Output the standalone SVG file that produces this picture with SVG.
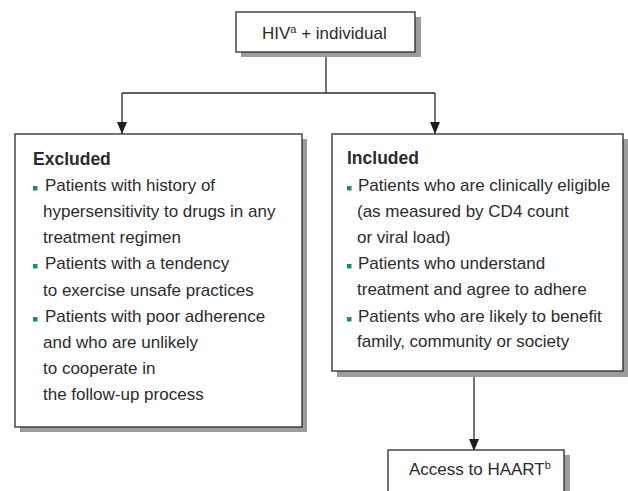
<svg xmlns="http://www.w3.org/2000/svg" width="628" height="491" viewBox="0 0 628 491">
<defs>
<marker id="arr" markerUnits="userSpaceOnUse" markerWidth="10" markerHeight="12" viewBox="0 0 10 12" refX="5" refY="12" orient="0">
<path d="M0,0 L10,0 L5,12 Z" fill="#1e1e1e"/>
</marker>
</defs>
<style>
.box{fill:#fff;stroke:#2a2a2a;stroke-width:1.3}
.sh{fill:#9c9c9c}
.t{font-family:"Liberation Sans",Arial,sans-serif;font-size:17px;fill:#2b2b2b}
.h{font-family:"Liberation Sans",Arial,sans-serif;font-size:17.5px;font-weight:bold;fill:#2b2b2b}
.b{fill:#1a8a78}
.c{fill:none;stroke:#2a2a2a;stroke-width:1.3}
</style>
<rect width="628" height="491" fill="#fff"/>
<g id="connectors">
<path class="c" d="M326,52 V93 M122,93 H435"/>
<path class="c" d="M122,93 V134" marker-end="url(#arr)"/>
<path class="c" d="M435,93 V134" marker-end="url(#arr)"/>
<path class="c" d="M474,371 V451" marker-end="url(#arr)"/>
</g>
<g id="node-hiv">
<rect class="sh" x="241" y="17" width="180" height="40"/>
<rect class="box" x="236" y="12" width="179" height="40"/>
<text class="t" x="262" y="39">HIV<tspan font-size="11" dy="-6">a</tspan><tspan dy="6"> + individual</tspan></text>
</g>
<g id="node-excluded">
<rect class="sh" x="20" y="139" width="287" height="293"/>
<rect class="box" x="15" y="134" width="287" height="293"/>
<text class="h" x="33" y="165">Excluded</text>
<rect class="b" x="33" y="186" width="4.5" height="4.5"/>
<rect class="b" x="33" y="264" width="4.5" height="4.5"/>
<rect class="b" x="33" y="317" width="4.5" height="4.5"/>
<text class="t" x="45" y="191">Patients with history of</text>
<text class="t" x="43" y="217">hypersensitivity to drugs in any</text>
<text class="t" x="43" y="243">treatment regimen</text>
<text class="t" x="45" y="269">Patients with a tendency</text>
<text class="t" x="43" y="295.5">to exercise unsafe practices</text>
<text class="t" x="45" y="322">Patients with poor adherence</text>
<text class="t" x="43" y="348">and who are unlikely</text>
<text class="t" x="43" y="374">to cooperate in</text>
<text class="t" x="43" y="400">the follow-up process</text>
</g>
<g id="node-included">
<rect class="sh" x="337" y="139" width="291" height="238"/>
<rect class="box" x="332" y="134" width="291" height="237"/>
<text class="h" x="347" y="164">Included</text>
<rect class="b" x="347" y="186" width="4.5" height="4.5"/>
<rect class="b" x="347" y="264" width="4.5" height="4.5"/>
<rect class="b" x="347" y="317" width="4.5" height="4.5"/>
<text class="t" x="358" y="191">Patients who are clinically eligible</text>
<text class="t" x="357" y="217">(as measured by CD4 count</text>
<text class="t" x="357" y="243">or viral load)</text>
<text class="t" x="358" y="269">Patients who understand</text>
<text class="t" x="357" y="295">treatment and agree to adhere</text>
<text class="t" x="358" y="322">Patients who are likely to benefit</text>
<text class="t" x="357" y="347">family, community or society</text>
</g>
<g id="node-haart">
<rect class="sh" x="393" y="455" width="177" height="40"/>
<rect class="box" x="388" y="450" width="176" height="45"/>
<text class="t" x="409" y="475">Access to HAART<tspan font-size="11" dy="-6">b</tspan></text>
</g>
</svg>
